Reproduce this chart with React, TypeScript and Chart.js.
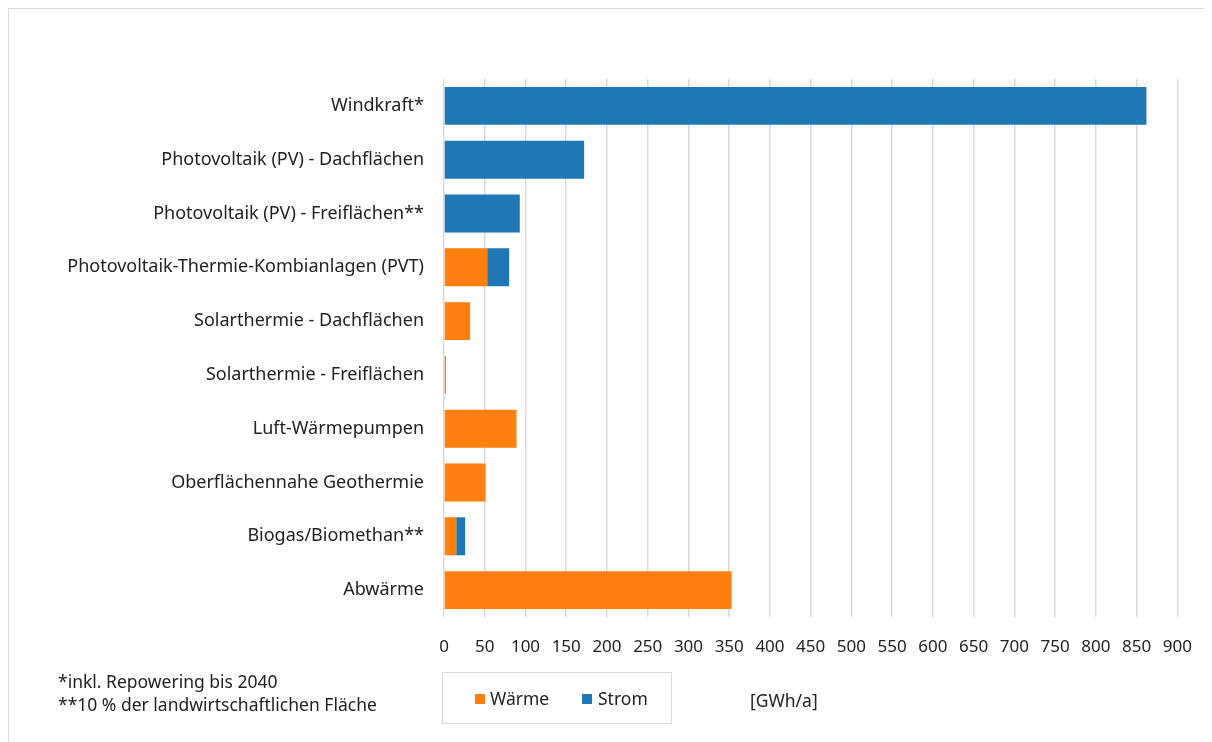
import React, { useEffect, useRef } from "react";
import { Chart, registerables } from "chart.js";

Chart.register(...registerables);

const categories = [
  "Windkraft*",
  "Photovoltaik (PV) - Dachflächen",
  "Photovoltaik (PV) - Freiflächen**",
  "Photovoltaik-Thermie-Kombianlagen (PVT)",
  "Solarthermie - Dachflächen",
  "Solarthermie - Freiflächen",
  "Luft-Wärmepumpen",
  "Oberflächennahe Geothermie",
  "Biogas/Biomethan**",
  "Abwärme",
];
const waerme = [0, 0, 0, 53, 32, 2.5, 89, 51, 15, 353];
const strom = [862, 172, 93, 27, 0, 0, 0, 0, 11, 0];
const xTicks = [0, 50, 100, 150, 200, 250, 300, 350, 400, 450, 500, 550, 600, 650, 700, 750, 800, 850, 900];
const footnotes = ["*inkl. Repowering bis 2040", "**10 % der landwirtschaftlichen Fläche"];
const unitLabel = "[GWh/a]";
const seriesNames = ["Wärme", "Strom"];
const seriesColors = ["#FF800E", "#1F77B4"];

const FONT = "'Noto Sans', sans-serif";

export default function App() {
  const ref = useRef<HTMLCanvasElement | null>(null);
  useEffect(() => {
    document.body.style.overflow = "hidden";
    const chart = new Chart(ref.current as HTMLCanvasElement, {
      type: "bar",
      data: {
        labels: categories,
        datasets: [
          { label: seriesNames[0], data: waerme, backgroundColor: seriesColors[0], barPercentage: 0.88, categoryPercentage: 0.8 },
          { label: seriesNames[1], data: strom, backgroundColor: seriesColors[1], barPercentage: 0.88, categoryPercentage: 0.8 },
        ],
      },
      options: {
        indexAxis: "y",
        animation: false,
        responsive: false,
        layout: { padding: { top: 71, right: 30, bottom: 75, left: 0 } },
        plugins: { legend: { display: false }, tooltip: { enabled: false } },
        scales: {
          x: {
            stacked: true,
            min: 0,
            max: 900,
            afterBuildTicks: (s: any) => { s.ticks = xTicks.map((v) => ({ value: v })); },
            afterFit: (s: any) => { s.height = 50; },
            grid: { color: "#d9d9d9", lineWidth: 1.5, drawTicks: false },
            border: { display: false },
            ticks: { color: "#222", font: { family: FONT, size: 17 }, padding: 20, autoSkip: false, maxRotation: 0 },
          },
          y: {
            stacked: true,
            afterFit: (s: any) => { s.width = 436; },
            grid: { display: false, drawTicks: false },
            border: { display: false },
            ticks: { color: "#222", font: { family: FONT, size: 18 }, padding: 20 },
          },
        },
      },
    });
    return () => chart.destroy();
  }, []);

  const txt: React.CSSProperties = { position: "absolute", fontFamily: FONT, fontSize: 17.5, color: "#222", whiteSpace: "nowrap", lineHeight: "22px" };
  return (
    <div style={{ position: "relative", width: 1204, height: 734, borderTop: "1px solid #d9d9d9", borderLeft: "1px solid #d9d9d9", boxSizing: "border-box", overflow: "hidden" }}>
      <canvas ref={ref} width={1204} height={734} style={{ position: "absolute", left: -1, top: -1 }} />
      <div style={{ ...txt, left: 49, top: 661 }}>{footnotes[0]}</div>
      <div style={{ ...txt, left: 49, top: 684 }}>{footnotes[1]}</div>
      <div style={{ position: "absolute", left: 433, top: 663, width: 230, height: 52, border: "1px solid #d9d9d9", boxSizing: "border-box" }}>
        <div style={{ position: "absolute", left: 32, top: 21, width: 10, height: 10, background: seriesColors[0] }} />
        <div style={{ ...txt, fontSize: 17.5, left: 47, top: 14 }}>{seriesNames[0]}</div>
        <div style={{ position: "absolute", left: 139, top: 21, width: 10, height: 10, background: seriesColors[1] }} />
        <div style={{ ...txt, fontSize: 17.5, left: 155, top: 14 }}>{seriesNames[1]}</div>
      </div>
      <div style={{ ...txt, left: 741, top: 680 }}>{unitLabel}</div>
    </div>
  );
}
